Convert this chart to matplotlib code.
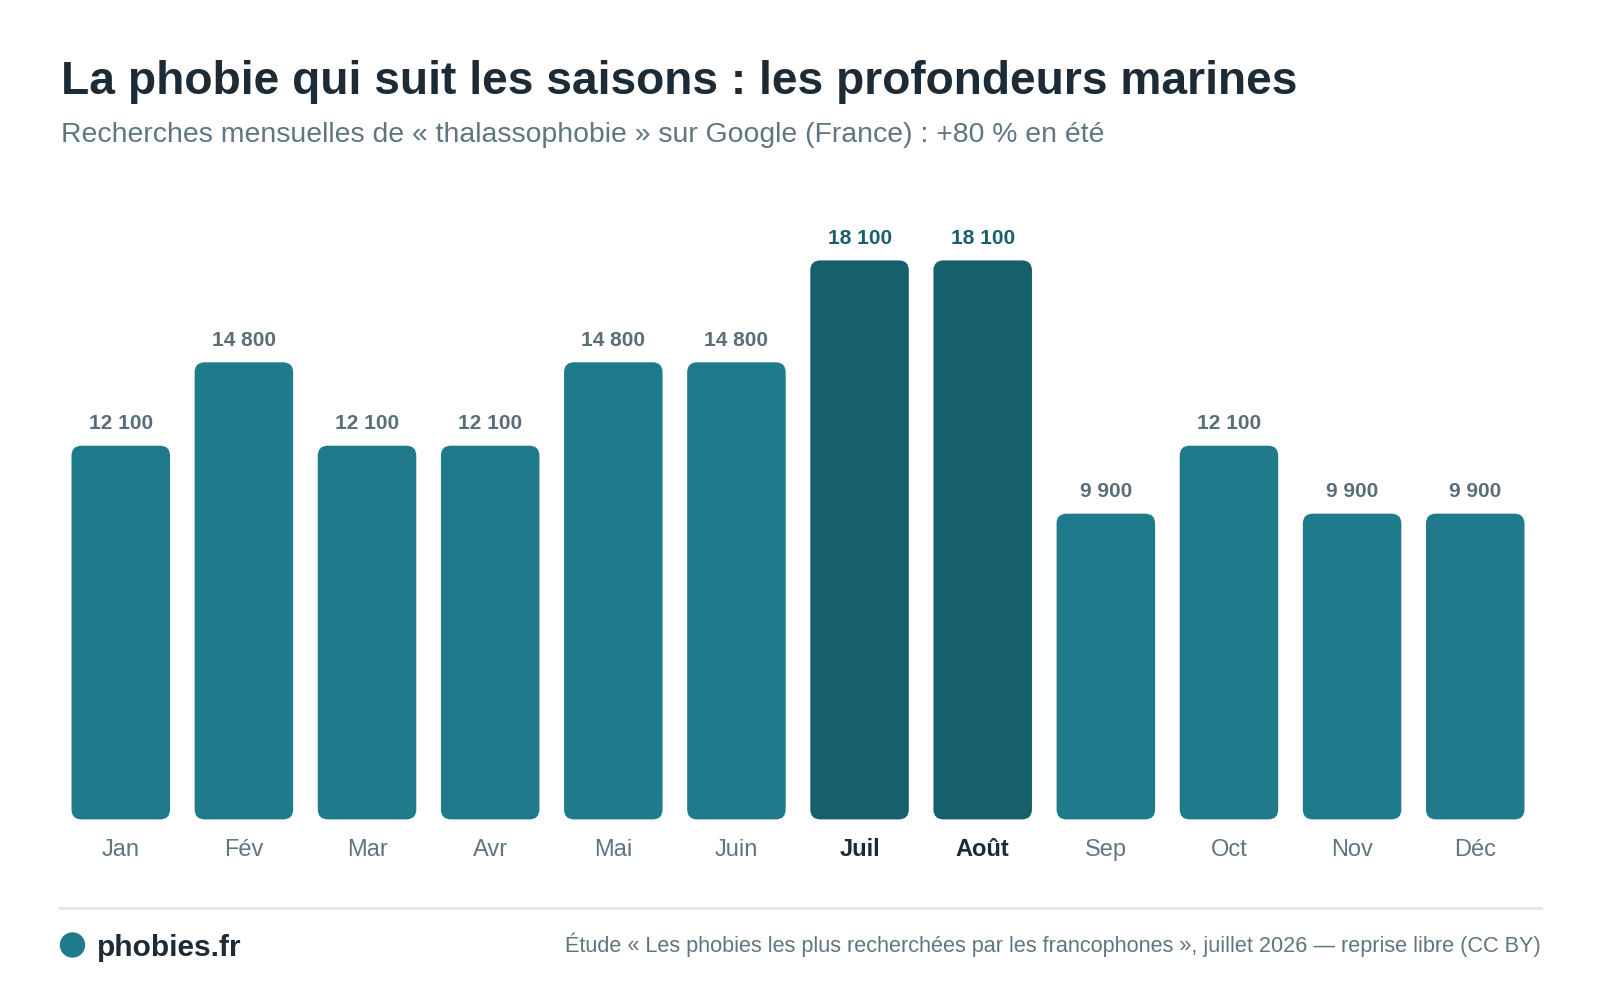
import matplotlib
matplotlib.use("Agg")
import matplotlib.pyplot as plt
from matplotlib.patches import FancyBboxPatch, Circle

plt.rcParams["font.family"] = ["Liberation Sans", "DejaVu Sans"]

months = ["Jan", "Fév", "Mar", "Avr", "Mai", "Juin", "Juil", "Août", "Sep", "Oct", "Nov", "Déc"]
searches = [12100, 14800, 12100, 12100, 14800, 14800, 18100, 18100, 9900, 12100, 9900, 9900]
summer = ["Juil", "Août"]

title = "La phobie qui suit les saisons : les profondeurs marines"
subtitle = "Recherches mensuelles de « thalassophobie » sur Google (France) : +80 % en été"
source = "Étude « Les phobies les plus recherchées par les francophones », juillet 2026 — reprise libre (CC BY)"

teal = "#1f7a8c"
teal_dark = "#16606b"
ink = "#1c2b36"
grey = "#5f7580"


def fmt(v):
    return f"{v:,}".replace(",", " ")


fig = plt.figure(figsize=(16, 10), dpi=100)
ax = fig.add_axes([0.037, 0.1806, 0.9235, 0.559])
ax.set_xlim(-0.5, len(months) - 0.5)
ax.set_ylim(0, max(searches))
ax.axis("off")

colors = [teal_dark if m in summer else teal for m in months]
bars = ax.bar(range(len(months)), searches, width=0.8, color=colors)

# swap plain bars for rounded ones
fig.canvas.draw()
x_per_px = (ax.get_xlim()[1] - ax.get_xlim()[0]) / ax.bbox.width
y_per_px = (ax.get_ylim()[1] - ax.get_ylim()[0]) / ax.bbox.height
for b, c in zip(bars, colors):
    b.set_visible(False)
    rb = FancyBboxPatch((b.get_x(), b.get_y()), b.get_width(), b.get_height(),
                        boxstyle=f"round,pad=0,rounding_size={10 * x_per_px}",
                        mutation_aspect=y_per_px / x_per_px,
                        facecolor=c, edgecolor="none", clip_on=False)
    ax.add_patch(rb)

for i, (m, v) in enumerate(zip(months, searches)):
    hot = m in summer
    ax.annotate(fmt(v), (i, v), xytext=(0, 12), textcoords="offset points",
                ha="center", va="baseline", fontsize=15, fontweight="bold",
                color="#1a5f6a" if hot else "#5a6e78", annotation_clip=False)
    ax.annotate(m, (i, 0), xytext=(0, -22), textcoords="offset points",
                ha="center", va="center", fontsize=17,
                fontweight="bold" if hot else "normal",
                color=ink if hot else grey, annotation_clip=False)

fig.text(0.038, 0.906, title, fontsize=33.2, fontweight="bold", color=ink, va="baseline")
fig.text(0.038, 0.858, subtitle, fontsize=20.4, color=grey, va="baseline")

fig.add_artist(plt.Line2D([0.037, 0.963], [0.0918, 0.0918], color="#e1e7ea", lw=2))
fig.add_artist(Circle((0.0453 * 16, 0.055 * 10), 0.12, transform=fig.dpi_scale_trans,
                      color=teal))
fig.text(0.0606, 0.052, "phobies.fr", fontsize=21.5, fontweight="bold", color=ink, va="center")
fig.text(0.963, 0.055, source, fontsize=15.6, color=grey, va="center", ha="right")

fig.savefig("out.png", dpi=100, facecolor="white")
